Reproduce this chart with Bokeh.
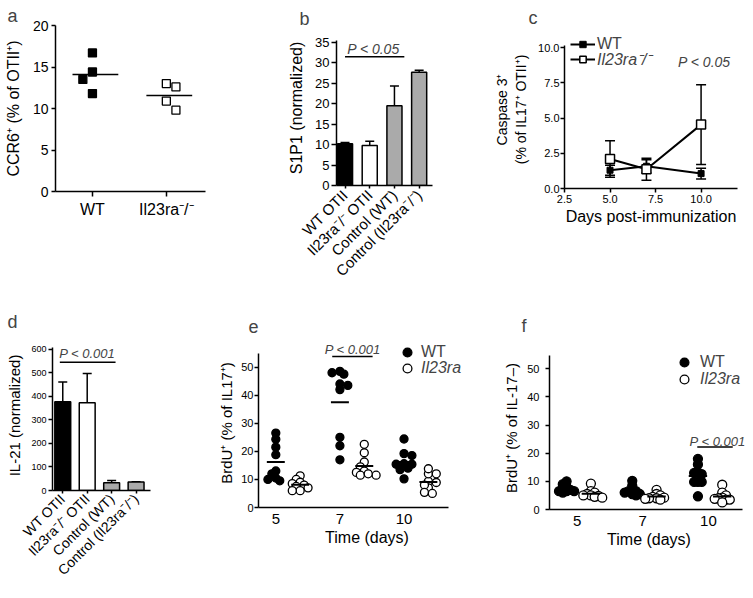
import math
from bokeh.plotting import figure
from bokeh.layouts import row, column
from bokeh.models import (Range1d, FixedTicker, Whisker, TeeHead, Label, Legend,
                          LegendItem, ColumnDataSource, NumeralTickFormatter)
from bokeh.embed import file_html
from bokeh.resources import INLINE

FONT = "Liberation Sans"

# ---------------- data ----------------
# a
a_groups = ["WT", "Il23ra\u207b/\u207b"]
a_wt = [16.7, 14.4, 13.5, 11.8]
a_ko = [13.0, 12.6, 10.9, 9.8]

# b
b_labels = ["WT OTII", "Il23ra\u207b/\u207b OTII", "Control (WT)", "Control (Il23ra\u207b/\u207b)"]
b_mean = [10.2, 9.8, 19.5, 27.7]
b_err = [0.3, 1.0, 4.8, 0.5]

# c
c_days = [5, 7, 10]
c_wt_mean = [1.30, 1.58, 1.06]
c_wt_err = [0.35, 0.47, 0.38]
c_ko_mean = [2.10, 1.37, 4.54]
c_ko_err = [1.30, 0.78, 2.84]

# d
d_labels = b_labels
d_mean = [377, 373, 33, 36]
d_err = [85, 125, 10, 1]

# e
e_days = ["5", "7", "10"]
e_wt = [[21.5, 26.5, 24.3, 18.8, 13.0, 12.0, 10.5, 10.0, 9.5],
        [48.0, 47.5, 48.5, 44.0, 43.5, 42.0, 25.0, 22.0, 17.0],
        [24.4, 18.5, 19.2, 15.6, 15.4, 15.4, 14.0, 13.5, 10.2]]
e_ko = [[11.3, 10.0, 9.0, 8.5, 8.0, 7.5, 7.0, 6.0, 6.0],
        [19.5, 22.5, 16.2, 14.5, 13.0, 12.5, 11.5, 11.5, 12.0],
        [9.3, 7.0, 8.9, 12.0, 13.8, 12.0, 8.0, 5.4, 5.0]]

# f
f_days = ["5", "7", "10"]
f_wt = [[10.0, 9.0, 8.0, 7.5, 7.0, 6.5, 6.5, 6.0, 6.5],
        [10.2, 8.5, 7.0, 6.5, 6.5, 6.0, 5.5, 5.5, 5.0],
        [18.0, 16.0, 13.0, 13.2, 12.6, 9.8, 9.8, 9.8, 4.7]]
f_ko = [[9.2, 6.5, 6.0, 5.5, 5.0, 5.0, 4.8, 4.5, 4.2],
        [7.0, 5.5, 5.0, 4.5, 4.2, 4.0, 4.0, 3.8, 3.5],
        [8.8, 6.0, 5.0, 4.2, 4.0, 3.8, 3.5, 3.5, 2.5]]

BAR_COLORS = ["black", "white", "#aaaaaa", "#aaaaaa"]


# ---------------- helpers ----------------
def swarm(vals, ypx, xpx, diam, gap=0.85, step_frac=0.5, left_first=False):
    """beeswarm x offsets (data units) so markers overlap only a little"""
    order = sorted(range(len(vals)), key=lambda i: -vals[i])
    placed = []
    offs = [0.0] * len(vals)
    step = diam * step_frac
    for n, i in enumerate(order):
        y = vals[i] * ypx
        k = 0
        chosen = None
        while chosen is None:
            if k == 0:
                cands = [0.0]
            else:
                flip = (n % 2 == 0) != left_first
                cands = [k * step, -k * step] if flip else [-k * step, k * step]
            for c in cands:
                if all((c - px) ** 2 + (y - py) ** 2 >= (gap * diam) ** 2 for px, py in placed):
                    chosen = c
                    break
            k += 1
        placed.append((chosen, y))
        offs[i] = chosen / xpx
    return offs


def mk(letter_txt, w, h, xr, yr, l, r, t, b, title_offset, title_standoff):
    p = figure(width=w, height=h, x_range=Range1d(*xr), y_range=Range1d(*yr),
               output_backend="svg", toolbar_location=None, title=letter_txt,
               min_border_left=l, min_border_right=r, min_border_top=t, min_border_bottom=b)
    p.title.text_font = FONT
    p.title.text_font_size = "18px"
    p.title.text_font_style = "normal"
    p.title.align = "left"
    p.title.offset = title_offset
    p.title.standoff = title_standoff
    p.grid.visible = False
    p.outline_line_color = None
    p.background_fill_color = "white"
    p.border_fill_color = "white"
    for ax in p.axis:
        ax.axis_line_width = 1.5
        ax.axis_line_color = "black"
        ax.major_tick_line_width = 1.5
        ax.major_tick_line_color = "black"
        ax.minor_tick_line_color = None
        ax.major_tick_in = 0
        ax.major_tick_out = 4
        ax.major_label_text_font = FONT
        ax.major_label_text_color = "black"
        ax.axis_label_text_font = FONT
        ax.axis_label_text_font_style = "normal"
        ax.axis_label_text_color = "black"
    return p


def ptext(p, txt, x, y, size="14px"):
    p.add_layout(Label(x=x, y=y, text=txt, text_font=FONT, text_font_size=size,
                       text_font_style="italic", text_align="center", text_baseline="middle"))


def one_legend(p, label, renderers, x, y, italic, size, gw, gh, standoff):
    leg = Legend(items=[LegendItem(label=label, renderers=renderers)],
                 location=(x, y), padding=0, margin=0, spacing=0,
                 glyph_width=gw, glyph_height=gh, label_height=gh, label_standoff=standoff,
                 border_line_color=None, background_fill_alpha=0,
                 label_text_font=FONT, label_text_font_size=size,
                 label_text_font_style="italic" if italic else "normal")
    p.add_layout(leg, "center")


# ---------------- panel a ----------------
pa = mk("a", 250, 300, (-0.5, 1.53), (0, 20), 55, 45, 25, 109, -48, 0)
pa.xaxis.ticker = FixedTicker(ticks=[0, 1])
pa.xaxis.major_label_overrides = {0: a_groups[0], 1: a_groups[1]}
pa.xaxis.major_label_text_font_size = "16px"
pa.xaxis.major_tick_out = 5
pa.xaxis.major_label_standoff = 4
pa.yaxis.ticker = FixedTicker(ticks=[0, 5, 10, 15, 20])
pa.yaxis.major_label_text_font_size = "14px"
pa.yaxis.major_label_standoff = 3
pa.yaxis.axis_label = "CCR6\u207a (% of OTII\u207a)"
pa.yaxis.axis_label_text_font_size = "16px"
pa.yaxis.axis_label_standoff = 8
for i, (vals, fill) in enumerate([(a_wt, "black"), (a_ko, "white")]):
    offs = swarm(vals, 8.3, 74, 8, gap=1.2, step_frac=1.2, left_first=True)
    pa.scatter([i + o for o in offs], vals, marker="square", size=8,
               fill_color=fill, line_color="black", line_width=1.3)
    m = sum(vals) / len(vals)
    pa.segment(x0=[i - 0.27], x1=[i + 0.35], y0=[m], y1=[m], line_color="black", line_width=1.5)

# ---------------- panel b ----------------
pb = mk("b", 240, 300, (-0.345, 3.54), (0, 37.9), 86, 58, 30, 115, -37, 4)
pb.yaxis.bounds = (0, 35.4)
idx = list(range(len(b_mean)))
pb.vbar(x=idx, top=b_mean, width=0.61, fill_color=BAR_COLORS, line_color="black", line_width=1.5)
srcb = ColumnDataSource(dict(x=idx, lo=b_mean, hi=[m + e for m, e in zip(b_mean, b_err)]))
pb.add_layout(Whisker(source=srcb, base="x", lower="lo", upper="hi", lower_head=None,
                      upper_head=TeeHead(size=9, line_width=1.5), line_width=1.5))
pb.xaxis.ticker = FixedTicker(ticks=idx)
pb.xaxis.major_label_overrides = {i: t for i, t in enumerate(b_labels)}
pb.xaxis.major_label_orientation = math.pi / 4
pb.xaxis.major_label_text_font_size = "15px"
pb.xaxis.major_tick_out = 3
pb.xaxis.major_label_standoff = 4
pb.yaxis.ticker = FixedTicker(ticks=[0, 5, 10, 15, 20, 25, 30, 35])
pb.yaxis.major_label_text_font_size = "13px"
pb.yaxis.major_tick_out = 5
pb.yaxis.major_label_standoff = 2
pb.yaxis.axis_label = "S1P1 (normalized)"
pb.yaxis.axis_label_text_font_size = "16px"
pb.yaxis.axis_label_standoff = 7
pb.segment(x0=[0.0], x1=[2.4], y0=[31.5], y1=[31.5], line_color="black", line_width=1.5)
ptext(pb, "P < 0.05", 1.15, 33.3, "14px")

# ---------------- panel c ----------------
pc = mk("c", 263, 300, (2.5, 12), (0, 11.23), 67, 16, 30, 112, -36, 6)
pc.yaxis.bounds = (0, 10.14)
srcw = ColumnDataSource(dict(x=c_days, lo=[m - e for m, e in zip(c_wt_mean, c_wt_err)],
                             hi=[m + e for m, e in zip(c_wt_mean, c_wt_err)]))
srck = ColumnDataSource(dict(x=c_days, lo=[m - e for m, e in zip(c_ko_mean, c_ko_err)],
                             hi=[m + e for m, e in zip(c_ko_mean, c_ko_err)]))
for s in (srcw, srck):
    pc.add_layout(Whisker(source=s, base="x", lower="lo", upper="hi", line_width=1.5,
                          upper_head=TeeHead(size=10, line_width=1.5),
                          lower_head=TeeHead(size=10, line_width=1.5)))
lw = pc.line(c_days, c_wt_mean, line_color="black", line_width=2)
sw = pc.scatter(c_days, c_wt_mean, marker="square", size=6, fill_color="black", line_color="black")
lk = pc.line(c_days, c_ko_mean, line_color="black", line_width=2)
sk = pc.scatter(c_days, c_ko_mean, marker="square", size=9, fill_color="white",
                line_color="black", line_width=1.5)
pc.xaxis.ticker = FixedTicker(ticks=[2.5, 5, 7.5, 10])
pc.xaxis.formatter = NumeralTickFormatter(format="0.0")
pc.xaxis.major_label_text_font_size = "11px"
pc.xaxis.major_label_standoff = 2
pc.xaxis.axis_label = "Days post-immunization"
pc.xaxis.axis_label_text_font_size = "16px"
pc.xaxis.axis_label_standoff = 2
pc.yaxis.ticker = FixedTicker(ticks=[0, 2.5, 5, 7.5, 10])
pc.yaxis.formatter = NumeralTickFormatter(format="0.0")
pc.yaxis.major_label_text_font_size = "11px"
pc.yaxis.major_label_standoff = 1
pc.yaxis.axis_label = "Caspase 3\u207a\n(% of IL17\u207a OTII\u207a)"
pc.yaxis.axis_label_text_font_size = "14px"
pc.yaxis.axis_label_standoff = 6
one_legend(pc, "WT", [lw, sw], 6, 135, False, "16px", 25, 16, 2)
one_legend(pc, "Il23ra\u207b/\u207b", [lk, sk], 6, 118, True, "16px", 25, 16, 2)
ptext(pc, "P < 0.05", 10.18, 8.96, "14px")

# ---------------- panel d ----------------
pd_ = mk("d", 215, 298, (-0.42, 3.59), (0, 638), 52, 65, 40, 108, -45, 17)
pd_.yaxis.bounds = (0, 608)
idx = list(range(len(d_mean)))
pd_.vbar(x=idx, top=d_mean, width=0.65, fill_color=BAR_COLORS, line_color="black", line_width=1.5)
srcd = ColumnDataSource(dict(x=idx, lo=d_mean, hi=[m + e for m, e in zip(d_mean, d_err)]))
pd_.add_layout(Whisker(source=srcd, base="x", lower="lo", upper="hi", lower_head=None,
                       upper_head=TeeHead(size=9, line_width=1.5), line_width=1.5))
pd_.xaxis.ticker = FixedTicker(ticks=idx)
pd_.xaxis.major_label_overrides = {i: t for i, t in enumerate(d_labels)}
pd_.xaxis.major_label_orientation = math.pi / 4
pd_.xaxis.major_label_text_font_size = "14px"
pd_.xaxis.major_tick_out = 3
pd_.xaxis.major_label_standoff = 3
pd_.yaxis.ticker = FixedTicker(ticks=[0, 100, 200, 300, 400, 500, 600])
pd_.yaxis.major_label_text_font_size = "9px"
pd_.yaxis.major_label_standoff = 2
pd_.yaxis.axis_label = "IL-21 (normalized)"
pd_.yaxis.axis_label_text_font_size = "15px"
pd_.yaxis.axis_label_standoff = 5
pd_.segment(x0=[-0.12], x1=[2.16], y0=[546], y1=[546], line_color="black", line_width=1.5)
ptext(pd_, "P < 0.001", 1.0, 583, "13px")


# ---------------- panels e, f ----------------
def swarm_panel(p, wt, ko, shifts, ypx, xpx, diam, half, gap, step_frac):
    r_wt = r_ko = None
    for i in range(len(wt)):
        for vals, sh, fill in ((wt[i], shifts[0], "black"), (ko[i], shifts[1], "white")):
            offs = swarm(vals, ypx, xpx, diam, gap, step_frac)
            r = p.scatter([i + sh + o for o in offs], vals, marker="circle", size=diam,
                          fill_color=fill, line_color="black", line_width=1.3)
            m = sum(vals) / len(vals)
            p.segment(x0=[i + sh - half], x1=[i + sh + half], y0=[m], y1=[m],
                      line_color="black", line_width=2)
            if fill == "black":
                r_wt = r
            else:
                r_ko = r
    return r_wt, r_ko


def style_ef(p, days, ylabel, ytick_standoff, ylab_standoff):
    p.xaxis.ticker = FixedTicker(ticks=[0, 1, 2])
    p.xaxis.major_label_overrides = {i: d for i, d in enumerate(days)}
    p.xaxis.major_tick_out = 0
    p.xaxis.major_label_standoff = 6
    p.xaxis.major_label_text_font_size = "15px"
    p.xaxis.axis_label = "Time (days)"
    p.xaxis.axis_label_text_font_size = "16px"
    p.xaxis.axis_label_standoff = 2
    p.yaxis.ticker = FixedTicker(ticks=[0, 10, 20, 30, 40, 50])
    p.yaxis.major_label_text_font_size = "11px"
    p.yaxis.major_label_standoff = ytick_standoff
    p.yaxis.axis_label = ylabel
    p.yaxis.axis_label_text_font_size = "15px"
    p.yaxis.axis_label_standoff = ylab_standoff


pe = mk("e", 285, 298, (-0.27, 3.115), (0, 60.2), 40, 25, 38, 91, -10, 12)
pe.yaxis.bounds = (0, 54.8)
pe.xaxis.bounds = (-0.27, 2.7)
style_ef(pe, e_days, "BrdU\u207a (% of IL17\u207a)", 1, 3)
ew, ek = swarm_panel(pe, e_wt, e_ko, (0.0, 0.38), 2.8, 65, 8, 0.14, 0.6, 0.5)
pe.segment(x0=[0.88], x1=[1.51], y0=[53.8], y1=[53.8], line_color="black", line_width=1.5)
ptext(pe, "P < 0.001", 1.2, 56.2, "13px")
one_legend(pe, "WT", [ew], 138, 144, False, "16px", 22, 22, 3)
one_legend(pe, "Il23ra", [ek], 138, 128, True, "16px", 22, 22, 3)

pf = mk("f", 253, 298, (-0.42, 2.61), (0, 57.9), 49, 5, 46, 89, -28, 21)
pf.yaxis.bounds = (0, 54.7)
pf.xaxis.bounds = (-0.42, 2.52)
style_ef(pf, f_days, "BrdU\u207a (% of IL-17\u2013)", 6, 4)
fw, fk = swarm_panel(pf, f_wt, f_ko, (-0.16, 0.21), 2.82, 65.7, 9, 0.14, 0.42, 0.42)
pf.segment(x0=[1.83], x1=[2.37], y0=[22.2], y1=[22.2], line_color="black", line_width=1.5)
ptext(pf, "P < 0.001", 2.14, 24.3, "13px")
one_legend(pf, "WT", [fw], 124, 136, False, "16px", 22, 22, 5)
one_legend(pf, "Il23ra", [fk], 124, 119, True, "16px", 22, 22, 5)

layout = column(row(column(pa), column(pb), column(pc)),
                row(column(pd_), column(pe), column(pf)))
open("out.html", "w").write(file_html(layout, INLINE))
